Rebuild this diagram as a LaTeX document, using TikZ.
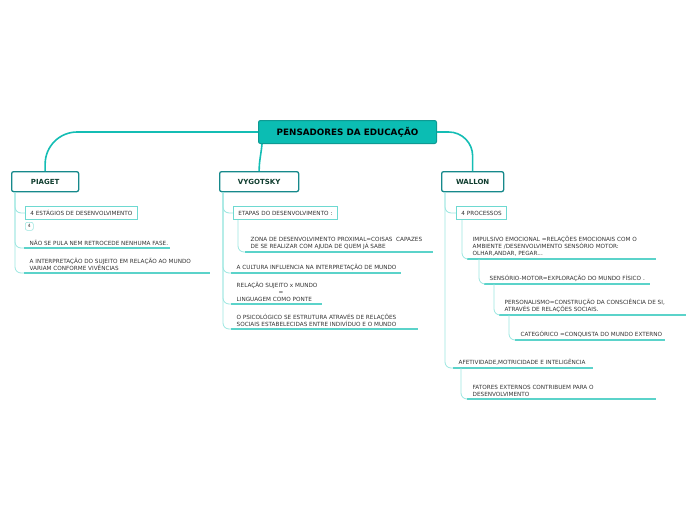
\documentclass[tikz,border=0pt]{standalone}
\usepackage{fontspec}
\setmainfont{DejaVu Sans}
\usepackage{xcolor}
\usetikzlibrary{positioning}
\definecolor{rootA}{HTML}{0BBDB3}
\definecolor{rootB}{HTML}{0E9A93}
\definecolor{mainline}{HTML}{14BDB4}
\definecolor{thinkA}{HTML}{16898B}
\definecolor{thinkT}{HTML}{0F3D2F}
\definecolor{branchA}{HTML}{9BE6E0}
\definecolor{ulineA}{HTML}{5BD3CA}
\definecolor{subA}{HTML}{6ED9D1}
\definecolor{leafT}{HTML}{333333}
\tikzset{
  root/.style={rounded corners=2pt, draw=rootB, line width=1pt, fill=rootA, minimum width=178pt, minimum height=23pt, font=\bfseries\fontsize{8.8}{10}\selectfont, text=black},
  thinker/.style={rounded corners=2pt, draw=thinkA, line width=1.3pt, fill=white, minimum height=20pt, font=\bfseries\fontsize{7}{8}\selectfont, text=thinkT},
  subbox/.style={draw=subA, line width=0.9pt, fill=white, inner xsep=5pt, minimum height=13pt, font=\fontsize{5.7}{7}\selectfont, text=leafT},
  leaf/.style={inner xsep=5.5pt, inner ysep=2.5pt, align=left, font=\fontsize{5.7}{7}\selectfont, text=leafT},
  mainlink/.style={draw=mainline, line width=1.6pt, rounded corners=32pt},
  branch/.style={draw=branchA, line width=0.8pt, rounded corners=6pt},
  uline/.style={draw=ulineA, line width=1.1pt}
}

\begin{document}
\begin{tikzpicture}[x=1pt,y=1pt]
\useasboundingbox (0,0) rectangle (696,-520);

% central topic and the three thinkers
\node[root, anchor=north west] (root) at (258,-120) {PENSADORES DA EDUCAÇÃO};
\node[thinker, minimum width=67pt, anchor=north west] (piaget) at (11,-171) {PIAGET};
\node[thinker, minimum width=79pt, anchor=north west] (vygotsky) at (219,-171) {VYGOTSKY};
\node[thinker, minimum width=62pt, anchor=north west] (wallon) at (441,-171) {WALLON};

\draw[mainlink] (root.west) -| (piaget.north);
\draw[mainlink, rounded corners=0pt] ([xshift=4pt]root.south west) to[out=-95,in=90] (vygotsky.north);
\draw[mainlink, rounded corners=24pt] (root.east) -| (wallon.north);

% PIAGET
\node[subbox, anchor=north west] (estagios) at (25,-206) {4 ESTÁGIOS DE DESENVOLVIMENTO};
\node[subbox, draw=branchA, line width=0.6pt, rounded corners=2pt, minimum height=8pt, minimum width=8pt, inner sep=1pt, font=\fontsize{4.5}{5}\selectfont, anchor=north west] (quatro) at (25,-222) {4};
\node[leaf, anchor=south west] (pula) at (24,-248) {NÃO SE PULA NEM RETROCEDE NENHUMA FASE.};
\node[leaf, anchor=south west] (interp) at (24,-273) {A INTERPRETAÇÃO DO SUJEITO EM RELAÇÃO AO MUNDO\\VARIAM CONFORME VIVÊNCIAS};
\draw[uline] (pula.south west) -- ++(146,0);
\draw[uline] (interp.south west) -- ++(186,0);

\draw[branch] ([xshift=4pt]piaget.south west) |- (estagios.west);
\draw[branch] ([xshift=4pt]piaget.south west) |- (pula.south west);
\draw[branch] ([xshift=4pt]piaget.south west) |- (interp.south west);

% VYGOTSKY
\node[subbox, anchor=north west] (etapas) at (233,-206) {ETAPAS DO DESENVOLVIMENTO :};
\node[leaf, anchor=south west] (zona) at (245,-252) {ZONA DE DESENVOLVIMENTO PROXIMAL=COISAS\ \ CAPAZES\\DE SE REALIZAR COM AJUDA DE QUEM JÁ SABE};
\node[leaf, anchor=south west] (cultura) at (231,-273) {A CULTURA INFLUENCIA NA INTERPRETAÇÃO DE MUNDO};
\node[leaf, anchor=south west] (relacao) at (231,-304) {RELAÇÃO SUJEITO x MUNDO\\\hspace*{42pt}=\\LINGUAGEM COMO PONTE};
\node[leaf, anchor=south west] (psico) at (231,-329) {O PSICOLÓGICO SE ESTRUTURA ATRAVÉS DE RELAÇÕES\\SOCIAIS ESTABELECIDAS ENTRE INDIVÍDUO E O MUNDO};
\draw[uline] (zona.south west) -- ++(188,0);
\draw[uline] (cultura.south west) -- ++(170,0);
\draw[uline] (relacao.south west) -- ++(91,0);
\draw[uline] (psico.south west) -- ++(187,0);

\draw[branch] ([xshift=4pt]vygotsky.south west) |- (etapas.west);
\draw[branch] ([xshift=5pt]etapas.south west) |- (zona.south west);
\draw[branch] ([xshift=4pt]vygotsky.south west) |- (cultura.south west);
\draw[branch] ([xshift=4pt]vygotsky.south west) |- (relacao.south west);
\draw[branch] ([xshift=4pt]vygotsky.south west) |- (psico.south west);

% WALLON
\node[subbox, anchor=north west] (processos) at (456,-206) {4 PROCESSOS};
\node[leaf, anchor=south west] (impulsivo) at (467,-259) {IMPULSIVO EMOCIONAL =RELAÇÕES EMOCIONAIS COM O\\AMBIENTE /DESENVOLVIMENTO SENSÓRIO MOTOR:\\OLHAR,ANDAR, PEGAR...};
\node[leaf, anchor=south west] (sensorio) at (484,-284) {SENSÓRIO-MOTOR=EXPLORAÇÃO DO MUNDO FÍSICO .};
\node[leaf, anchor=south west] (personal) at (499,-315) {PERSONALISMO=CONSTRUÇÃO DA CONSCIÊNCIA DE SI,\\ATRAVÉS DE RELAÇÕES SOCIAIS.};
\node[leaf, anchor=south west] (categorico) at (515,-340) {CATEGÓRICO =CONQUISTA DO MUNDO EXTERNO};
\node[leaf, anchor=south west] (afetiv) at (453,-368) {AFETIVIDADE,MOTRICIDADE E INTELIGÊNCIA};
\node[leaf, anchor=south west] (fatores) at (467,-399) {FATORES EXTERNOS CONTRIBUEM PARA O\\DESENVOLVIMENTO};
\draw[uline] (impulsivo.south west) -- ++(189,0);
\draw[uline] (sensorio.south west) -- ++(166,0);
\draw[uline] (personal.south west) -- ++(187,0);
\draw[uline] (categorico.south west) -- ++(150,0);
\draw[uline] (afetiv.south west) -- ++(140,0);
\draw[uline] (fatores.south west) -- ++(189,0);

\draw[branch] ([xshift=4pt]wallon.south west) |- (processos.west);
\draw[branch] ([xshift=6pt]processos.south west) |- (impulsivo.south west);
\draw[branch] ([xshift=12pt]impulsivo.south west) |- (sensorio.south west);
\draw[branch] ([xshift=10pt]sensorio.south west) |- (personal.south west);
\draw[branch] ([xshift=10pt]personal.south west) |- (categorico.south west);
\draw[branch] ([xshift=4pt]wallon.south west) |- (afetiv.south west);
\draw[branch] ([xshift=8pt]afetiv.south west) |- (fatores.south west);

\end{tikzpicture}
\end{document}
